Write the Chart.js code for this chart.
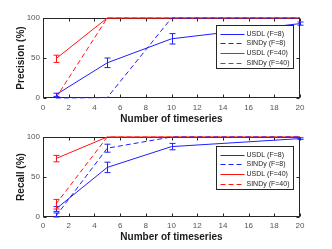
<!DOCTYPE html>
<html>
<head>
<meta charset="utf-8">
<script src="https://cdn.jsdelivr.net/npm/chart.js@4"></script>
<style>
  html, body { margin: 0; padding: 0; background: #fff; }
  .wrap { position: relative; width: 332px; }
  #precision-chart { display: block; width: 332px; height: 124px; }
  #recall-chart { display: block; width: 332px; height: 125px; }
</style>
</head>
<body>
<div class="wrap">
  <canvas id="precision-chart" width="332" height="124"></canvas>
  <canvas id="recall-chart" width="332" height="125"></canvas>
</div>
<script>
// x values (number of timeseries)
const timeseries = [1, 5, 10, 20];
const seriesNames = ['USDL (F=8)', 'SINDy (F=8)', 'USDL (F=40)', 'SINDy (F=40)'];

// precision (%)
const precUsdl8 = [4, 44, 74, 93];
const precUsdl8Err = [2, 6, 6.5, 2];
const precSindy8 = [0, 0.5, 100, 100];
const precSindy8Err = [0, 0, 0, 0];
const precUsdl40 = [49, 100, 100, 100];
const precUsdl40Err = [4.5, 0, 0, 0];
const precSindy40 = [0, 100, 100, 100];
const precSindy40Err = [0, 0, 0, 0];

// recall (%)
const recUsdl8 = [10, 62, 88, 98];
const recUsdl8Err = [3, 6.5, 4, 1];
const recSindy8 = [1, 86, 100, 100];
const recSindy8Err = [4, 5, 0, 0];
const recUsdl40 = [73, 100, 100, 100];
const recUsdl40Err = [4, 0, 0, 0];
const recSindy40 = [16, 100, 100, 100];
const recSindy40Err = [6, 0, 0, 0];

const xTicks = [0, 2, 4, 6, 8, 10, 12, 14, 16, 18, 20];
const yTicks = [0, 50, 100];

const BLUE = 'rgb(30, 30, 255)';
const RED = 'rgb(255, 20, 20)';
const AXIS = '#262626';
const FONT = '"Liberation Sans", Arial, sans-serif';

const toPoints = (vals) => vals.map((v, i) => ({ x: timeseries[i], y: v }));

const makeDataset = (label, vals, errs, color, dashed) => ({
  label: label,
  data: toPoints(vals),
  errors: errs,
  dashed: dashed,
  borderColor: color,
  backgroundColor: color,
  borderWidth: 1,
  borderDash: dashed ? [5, 3] : [],
  pointRadius: 0,
  tension: 0,
  clip: false,
});

// matlab style box with inward ticks, drawn under the lines
const frameBox = {
  id: 'frameBox',
  beforeDatasetsDraw(chart) {
    const ctx = chart.ctx;
    const a = chart.chartArea;
    const xs = chart.scales.x;
    const ys = chart.scales.y;
    const l = Math.round(a.left) + 0.5, r = Math.round(a.right) - 0.5;
    const t = Math.round(a.top) + 0.5, b = Math.round(a.bottom) - 0.5;
    ctx.save();
    ctx.strokeStyle = AXIS;
    ctx.lineWidth = 1;
    ctx.setLineDash([]);
    ctx.beginPath();
    xTicks.forEach((v) => {
      const px = Math.round(xs.getPixelForValue(v)) + 0.5;
      ctx.moveTo(px, b); ctx.lineTo(px, b - 3);
      ctx.moveTo(px, t); ctx.lineTo(px, t + 3);
    });
    yTicks.forEach((v) => {
      const py = Math.round(ys.getPixelForValue(v)) + 0.5;
      ctx.moveTo(l, py); ctx.lineTo(l + 3, py);
      ctx.moveTo(r, py); ctx.lineTo(r - 3, py);
    });
    ctx.stroke();
    ctx.strokeRect(l, t, r - l, b - t);
    ctx.restore();
  },
};

// error bars with caps
const errorBars = {
  id: 'errorBars',
  afterDatasetsDraw(chart) {
    const ctx = chart.ctx;
    const xs = chart.scales.x;
    const ys = chart.scales.y;
    ctx.save();
    ctx.lineWidth = 1;
    ctx.setLineDash([]);
    chart.data.datasets.forEach((ds) => {
      ds.data.forEach((p, i) => {
        const e = ds.errors[i];
        if (!e) return;
        const px = Math.round(xs.getPixelForValue(p.x)) + 0.5;
        const top = ys.getPixelForValue(Math.min(p.y + e, 100));
        const bot = ys.getPixelForValue(Math.max(p.y - e, 0));
        ctx.strokeStyle = ds.borderColor;
        ctx.beginPath();
        ctx.moveTo(px, top);
        ctx.lineTo(px, bot);
        ctx.moveTo(px - 3, top);
        ctx.lineTo(px + 3, top);
        ctx.moveTo(px - 3, bot);
        ctx.lineTo(px + 3, bot);
        ctx.stroke();
      });
    });
    ctx.restore();
  },
};

// legend box inside the axes, top right
const legendBox = {
  id: 'legendBox',
  afterDraw(chart, args, opts) {
    const ctx = chart.ctx;
    const a = chart.chartArea;
    const w = 77, h = 43;
    const x0 = Math.round(a.right - 7 - w) + 0.5;
    const y0 = Math.round(a.top + opts.offset) + 0.5;
    ctx.save();
    ctx.fillStyle = '#fff';
    ctx.fillRect(x0, y0, w, h);
    ctx.strokeStyle = AXIS;
    ctx.lineWidth = 1;
    ctx.strokeRect(x0, y0, w, h);
    ctx.font = '7px ' + FONT;
    ctx.textBaseline = 'middle';
    chart.data.datasets.forEach((ds, i) => {
      const yy = Math.round(y0 + 8 + i * 9.7) + 0.5;
      ctx.strokeStyle = ds.borderColor;
      ctx.setLineDash(ds.dashed ? [5, 3] : []);
      ctx.beginPath();
      ctx.moveTo(x0 + 4, yy);
      ctx.lineTo(x0 + 28, yy);
      ctx.stroke();
      ctx.setLineDash([]);
      ctx.fillStyle = AXIS;
      ctx.fillText(ds.label, x0 + 30, yy);
    });
    ctx.restore();
  },
};

const makeChart = (canvasId, yLabel, sets, layout) => {
  return new Chart(document.getElementById(canvasId), {
    type: 'line',
    data: {
      datasets: [
        makeDataset(seriesNames[0], sets[0], sets[1], BLUE, false),
        makeDataset(seriesNames[1], sets[2], sets[3], BLUE, true),
        makeDataset(seriesNames[2], sets[4], sets[5], RED, false),
        makeDataset(seriesNames[3], sets[6], sets[7], RED, true),
      ],
    },
    options: {
      responsive: false,
      animation: false,
      devicePixelRatio: 1,
      layout: { padding: { top: layout.top, right: 32, left: 0, bottom: layout.bottom } },
      plugins: {
        legend: { display: false },
        tooltip: { enabled: false },
        legendBox: { offset: layout.legendOffset },
      },
      scales: {
        x: {
          type: 'linear',
          min: 0,
          max: 20,
          grid: { display: false, drawTicks: false },
          border: { display: false },
          afterBuildTicks: (s) => { s.ticks = xTicks.map((v) => ({ value: v })); },
          afterFit: (s) => { s.height = layout.xHeight; },
          ticks: { color: '#555', font: { size: 8, family: FONT }, padding: layout.tickPad, maxRotation: 0 },
          title: {
            display: true,
            text: 'Number of timeseries',
            color: '#1a1a1a',
            font: { size: 10, weight: 'bold', family: FONT, lineHeight: 1 },
            padding: 0,
          },
        },
        y: {
          min: 0,
          max: 100,
          grid: { display: false, drawTicks: false },
          border: { display: false },
          afterBuildTicks: (s) => { s.ticks = yTicks.map((v) => ({ value: v })); },
          afterFit: (s) => { s.width = 43; },
          ticks: { color: '#555', font: { size: 8, family: FONT }, padding: 3 },
          title: {
            display: true,
            text: yLabel,
            color: '#1a1a1a',
            font: { size: 10, weight: 'bold', family: FONT, lineHeight: 1 },
            padding: { top: 16.5, bottom: 0 },
          },
        },
      },
    },
    plugins: [frameBox, errorBars, legendBox],
  });
};

makeChart('precision-chart', 'Precision (%)', [
  precUsdl8, precUsdl8Err, precSindy8, precSindy8Err,
  precUsdl40, precUsdl40Err, precSindy40, precSindy40Err,
], { top: 18, bottom: 0, xHeight: 26, tickPad: 5, legendOffset: 7 });

makeChart('recall-chart', 'Recall (%)', [
  recUsdl8, recUsdl8Err, recSindy8, recSindy8Err,
  recUsdl40, recUsdl40Err, recSindy40, recSindy40Err,
], { top: 13, bottom: 7, xHeight: 25, tickPad: 4, legendOffset: 8.5 });
</script>
</body>
</html>
